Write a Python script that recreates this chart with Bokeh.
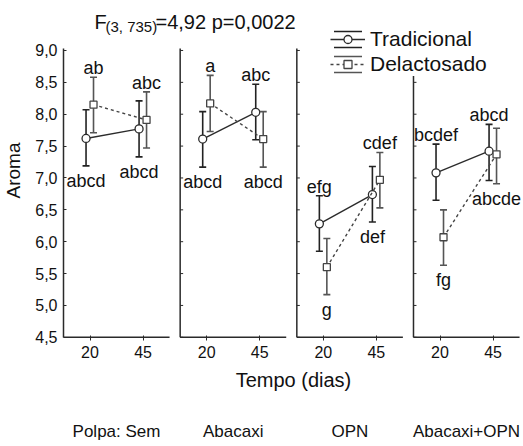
import numpy as np
from bokeh.plotting import figure
from bokeh.models import (Range1d, FixedTicker, LinearAxis, Label, Legend,
                          LegendItem, ColumnDataSource)
from bokeh.core.properties import value
from bokeh.embed import file_html
from bokeh.resources import INLINE

# ---------------- data ----------------
times = ["20", "45"]
polpas = ["Polpa: Sem", "Abacaxi", "OPN", "Abacaxi+OPN"]
series = ["Tradicional", "Delactosado"]

# order: (panel 1: 20, 45), (panel 2: 20, 45), ...
trad_mean = [7.62, 7.77, 7.61, 8.03, 6.28, 6.74, 7.08, 7.42]
trad_lo = [7.19, 7.33, 7.17, 7.60, 5.85, 6.31, 6.65, 6.96]
trad_hi = [8.07, 8.21, 8.04, 8.47, 6.72, 7.18, 7.53, 7.84]
trad_letters = ["abcd", "abcd", "abcd", "abc", "efg", "def", "bcdef", "abcd"]

del_mean = [8.15, 7.91, 8.17, 7.61, 5.60, 6.97, 6.07, 7.37]
del_lo = [7.71, 7.47, 7.73, 7.17, 5.17, 6.53, 5.63, 6.91]
del_hi = [8.58, 8.35, 8.61, 8.04, 6.05, 7.40, 6.50, 7.78]
del_letters = ["ab", "abc", "a", "abcd", "g", "cdef", "fg", "abcde"]

yticks = [4.5, 5.0, 5.5, 6.0, 6.5, 7.0, 7.5, 8.0, 8.5, 9.0]
ytick_labels = ["4,5", "5,0", "5,5", "6,0", "6,5", "7,0", "7,5", "8,0", "8,5", "9,0"]

# ---------------- layout / style ----------------
trad_side = ["below", "below", "below", "above", "above", "below", "above", "above"]
del_side = ["above", "above", "above", "below", "below", "above", "below", "below"]

FONT = "Liberation Sans"
TXT = "#111111"
AX = "#2a2a2a"
W, H = 523, 446
FL, FB = 61, 340
PXU = 53.26           # px per x unit
P = 2.2               # panel pitch (panel width 2 + gap)
OFF_T, OFF_D = -0.075, 0.066
x_end = (W - FL) / PXU
Y0, AXTOP, Y1 = 4.45, 9.031, 9.784

npan = len(polpas)
base = [k * P + 0.5 + j for k in range(npan) for j in range(len(times))]
tx = [b + OFF_T for b in base]
dx = [b + OFF_D for b in base]

p = figure(width=W, height=H, x_range=Range1d(0, x_end), y_range=Range1d(Y0, Y1),
           output_backend="svg", toolbar_location=None,
           min_border_left=FL, min_border_right=0, min_border_top=0,
           min_border_bottom=H - FB)
p.outline_line_color = None
p.grid.visible = False

# x axis (times)
p.xaxis.ticker = FixedTicker(ticks=base)
p.xaxis.major_label_overrides = {b: times[i % 2] for i, b in enumerate(base)}
p.xaxis.axis_line_color = None
p.xaxis.major_tick_in = 5
p.xaxis.major_tick_out = 0
p.xaxis.major_tick_line_color = AX
p.xaxis.major_tick_line_width = 1
p.xaxis.minor_tick_line_color = None
p.xaxis.major_label_standoff = 5
p.xaxis.major_label_text_font = FONT
p.xaxis.major_label_text_font_size = "16px"
p.xaxis.major_label_text_color = TXT
p.xaxis.axis_label = "Tempo (dias)"
p.xaxis.axis_label_text_font = FONT
p.xaxis.axis_label_text_font_size = "20px"
p.xaxis.axis_label_text_font_style = "normal"
p.xaxis.axis_label_text_color = TXT
p.xaxis.axis_label_standoff = 8

# second x axis: polpa names
centers = [k * P + 1.0 for k in range(npan)]
ax2 = LinearAxis(ticker=FixedTicker(ticks=centers),
                 major_label_overrides={c: polpas[k] for k, c in enumerate(centers)},
                 axis_line_color=None, major_tick_line_color=None,
                 minor_tick_line_color=None, major_label_standoff=22,
                 major_label_text_font=FONT, major_label_text_font_size="17px",
                 major_label_text_color=TXT)
p.add_layout(ax2, "below")

# y axis
p.yaxis.ticker = FixedTicker(ticks=yticks)
p.yaxis.major_label_overrides = dict(zip(yticks, ytick_labels))
p.yaxis.bounds = (yticks[0], AXTOP)
p.yaxis.axis_line_color = AX
p.yaxis.axis_line_width = 1.5
p.yaxis.major_tick_in = 3
p.yaxis.major_tick_out = 0
p.yaxis.major_tick_line_color = AX
p.yaxis.minor_tick_line_color = None
p.yaxis.major_label_standoff = 6
p.yaxis.major_label_text_font = FONT
p.yaxis.major_label_text_font_size = "16px"
p.yaxis.major_label_text_color = TXT
p.yaxis.axis_label = "Aroma"
p.yaxis.axis_label_text_font = FONT
p.yaxis.axis_label_text_font_size = "19px"
p.yaxis.axis_label_text_font_style = "normal"
p.yaxis.axis_label_text_color = TXT
p.yaxis.axis_label_standoff = 8

# panel frames (left lines for panels 2..4, bottom lines for all)
pstarts = [k * P for k in range(npan)]
p.segment(x0=pstarts[1:], y0=yticks[0], x1=pstarts[1:], y1=AXTOP, line_color=AX, line_width=1.5)
p.segment(x0=pstarts, y0=yticks[0], x1=[s + 2 for s in pstarts], y1=yticks[0],
          line_color=AX, line_width=1.5)
tk_x0 = [s for s in pstarts[1:] for _ in yticks]
tk_y = [t for _ in pstarts[1:] for t in yticks]
p.segment(x0=tk_x0, y0=tk_y, x1=[x + 3 / PXU for x in tk_x0], y1=tk_y,
          line_color=AX, line_width=1)


def draw_series(xs, mean, lo, hi, color, bar_color, dash, marker, msize):
    src = ColumnDataSource(dict(x=xs, m=mean, lo=lo, hi=hi,
                                mid=[(a + b) / 2 for a, b in zip(lo, hi)],
                                h=[b - a for a, b in zip(lo, hi)]))
    x0 = xs[0::2]; x1 = xs[1::2]; y0 = mean[0::2]; y1 = mean[1::2]
    r_line = p.segment(x0=x0, y0=y0, x1=x1, y1=y1, line_color=color,
                       line_width=1.4, line_dash=dash)
    p.segment(x0="x", y0="lo", x1="x", y1="hi", source=src, line_color=bar_color, line_width=1.6)
    r_stem = p.ellipse(x="x", y="mid", width=0, height="h", source=src,
                       fill_alpha=0, line_color=bar_color, line_width=1.6)
    p.scatter(x="x", y="hi", source=src, marker="dash", size=7, line_color=bar_color, line_width=1.6)
    p.scatter(x="x", y="lo", source=src, marker="dash", size=7, line_color=bar_color, line_width=1.6)
    r_cap = p.rect(x="x", y="m", width=0, height=0, source=src, fill_alpha=0,
                   line_color=bar_color, line_width=1.6, line_dash="28 16 28 16")
    r_pts = p.scatter(x="x", y="m", source=src, marker=marker, size=msize,
                      fill_color="white", line_color=color, line_width=1.3)
    return [r_cap, r_stem, r_line, r_pts]


rt = draw_series(tx, trad_mean, trad_lo, trad_hi, "#2b2b2b", "#222222", "solid", "circle", 8)
rd = draw_series(dx, del_mean, del_lo, del_hi, "#444444", "#555555", "3 3", "square", 7)

# significance letters
lx, ly, lt, lo_ = [], [], [], []
for xs, lets, sides, lo, hi in [(tx, trad_letters, trad_side, trad_lo, trad_hi),
                                (dx, del_letters, del_side, del_lo, del_hi)]:
    for i in range(len(xs)):
        lx.append(xs[i])
        lt.append(lets[i])
        if sides[i] == "above":
            ly.append(hi[i]); lo_.append(-9)
        else:
            ly.append(lo[i]); lo_.append(15)
p.text(x=lx, y=ly, text=lt, y_offset=lo_, text_align="center", text_baseline="alphabetic",
       text_font=value(FONT), text_font_size="18px", text_color=TXT)

# legend
legend = Legend(items=[LegendItem(label=series[0], renderers=rt),
                       LegendItem(label=series[1], renderers=rd)],
                location=(267, FB - 76), glyph_width=35, glyph_height=20,
                label_text_font=FONT, label_text_font_size="21px", label_text_color=TXT,
                label_standoff=5, padding=3, spacing=1, margin=0,
                border_line_color=None, background_fill_color="white",
                background_fill_alpha=1.0)
p.add_layout(legend)

# title with subscript
ty = FB - 21
p.add_layout(Label(x=92 - FL, y=ty, x_units="screen", y_units="screen", text="F",
                   text_font=FONT, text_font_size="20px", text_color=TXT,
                   text_baseline="alphabetic"))
p.add_layout(Label(x=103 - FL, y=ty - 5, x_units="screen", y_units="screen", text="(3, 735)",
                   text_font=FONT, text_font_size="15px", text_color=TXT,
                   text_baseline="alphabetic"))
p.add_layout(Label(x=153 - FL, y=ty, x_units="screen", y_units="screen", text="=4,92 p=0,0022",
                   text_font=FONT, text_font_size="20px", text_color=TXT,
                   text_baseline="alphabetic"))

open("out.html", "w").write(file_html(p, INLINE))
